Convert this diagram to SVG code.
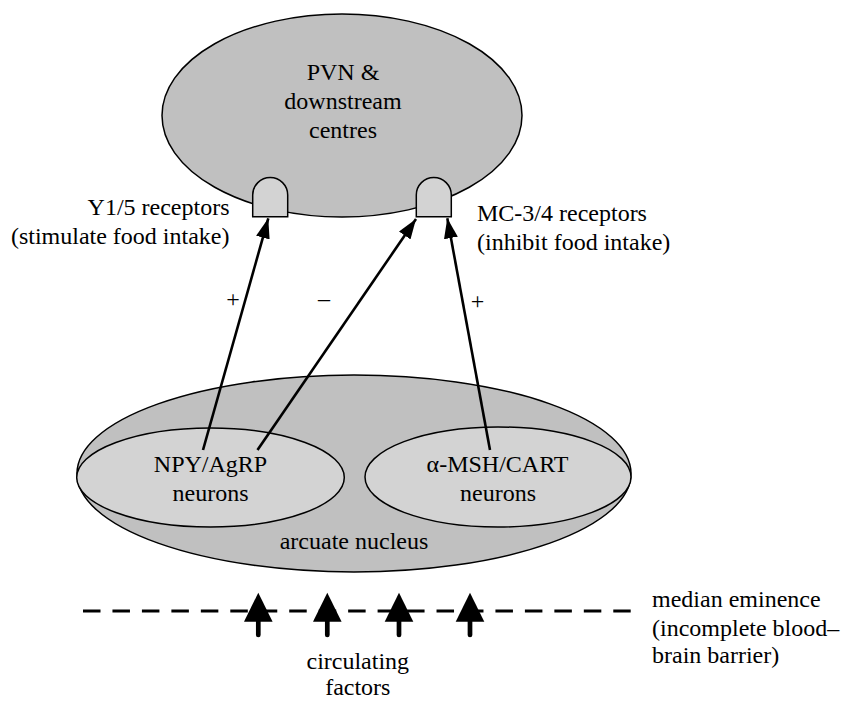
<svg xmlns="http://www.w3.org/2000/svg" xmlns:xlink="http://www.w3.org/1999/xlink" width="841" height="702" viewBox="0 0 841 702">
<style>
  text { font-family: "Liberation Serif", "Times New Roman", serif; font-size: 24px; fill: #000; }
  .mid { text-anchor: middle; }
  .end { text-anchor: end; }
  .region { fill: #c0c0c0; stroke: #000; stroke-width: 1.5; }
  .sub { fill: #d3d3d3; stroke: #000; stroke-width: 1.5; }
  .receptor { fill: #d3d3d3; stroke: #000; stroke-width: 1.5; }
  .conn { stroke: #000; stroke-width: 2.6; fill: none; marker-end: url(#arrow); }
  .barrier { stroke: #000; stroke-width: 3; stroke-dasharray: 17.5 11.96; fill: none; }
</style>
<defs>
  <marker id="arrow" markerUnits="userSpaceOnUse" markerWidth="20" markerHeight="14" refX="20" refY="7" orient="auto">
    <path d="M0,0 L20,7 L0,14 Z" fill="#000"/>
  </marker>
  <g id="upArrow">
    <line x1="0" y1="635" x2="0" y2="615" stroke="#000" stroke-width="4.7" stroke-linecap="round"/>
    <path d="M0,592.7 L14.3,621.7 L-14.3,621.7 Z" fill="#000"/>
  </g>
</defs>

<g id="pvn">
  <ellipse class="region" cx="342" cy="115.5" rx="180" ry="101.5"/>
  <text class="mid" x="343" y="80">PVN &amp;</text>
  <text class="mid" x="343" y="109">downstream</text>
  <text class="mid" x="343" y="138">centres</text>
</g>

<g id="y15-receptor">
  <path class="receptor" d="M252.7,216.7 V195 A17.5,17.5 0 0 1 287.7,195 V216.7 Z"/>
  <text class="end" x="229.5" y="215">Y1/5 receptors</text>
  <text class="end" x="229.5" y="244">(stimulate food intake)</text>
</g>

<g id="mc34-receptor">
  <path class="receptor" d="M416.3,216.7 V195 A17.5,17.5 0 0 1 451.3,195 V216.7 Z"/>
  <text x="477" y="221">MC-3/4 receptors</text>
  <text x="477" y="250">(inhibit food intake)</text>
</g>

<g id="arcuate">
  <ellipse class="region" cx="354" cy="473.5" rx="277" ry="98.5"/>
  <text class="mid" x="354" y="549">arcuate nucleus</text>
</g>

<g id="npy-agrp">
  <ellipse class="sub" cx="210.5" cy="477.5" rx="133.8" ry="49.5"/>
  <text class="mid" x="210.5" y="472">NPY/AgRP</text>
  <text class="mid" x="210.5" y="501">neurons</text>
</g>

<g id="msh-cart">
  <ellipse class="sub" cx="498" cy="477" rx="133" ry="50"/>
  <text class="mid" x="497.5" y="472">α-MSH/CART</text>
  <text class="mid" x="498" y="501">neurons</text>
</g>

<g id="connectors">
  <line class="conn" x1="203" y1="450" x2="268.3" y2="218.3"/>
  <line class="conn" x1="257.5" y1="450" x2="416" y2="219"/>
  <line class="conn" x1="490" y1="450" x2="447.3" y2="218.3"/>
  <text class="mid" x="233" y="307">+</text>
  <text class="mid" x="324" y="305.5">–</text>
  <text class="mid" x="477.5" y="308.5">+</text>
</g>

<g id="median-eminence">
  <line class="barrier" x1="83" y1="611" x2="630.7" y2="611"/>
  <text x="652" y="607">median eminence</text>
  <text x="652" y="635.5">(incomplete blood–</text>
  <text x="652" y="663">brain barrier)</text>
</g>

<g id="circulating-factors">
  <use xlink:href="#upArrow" x="258.3"/>
  <use xlink:href="#upArrow" x="327.3"/>
  <use xlink:href="#upArrow" x="399"/>
  <use xlink:href="#upArrow" x="470"/>
  <text class="mid" x="357.8" y="669">circulating</text>
  <text class="mid" x="357.8" y="695">factors</text>
</g>
</svg>
